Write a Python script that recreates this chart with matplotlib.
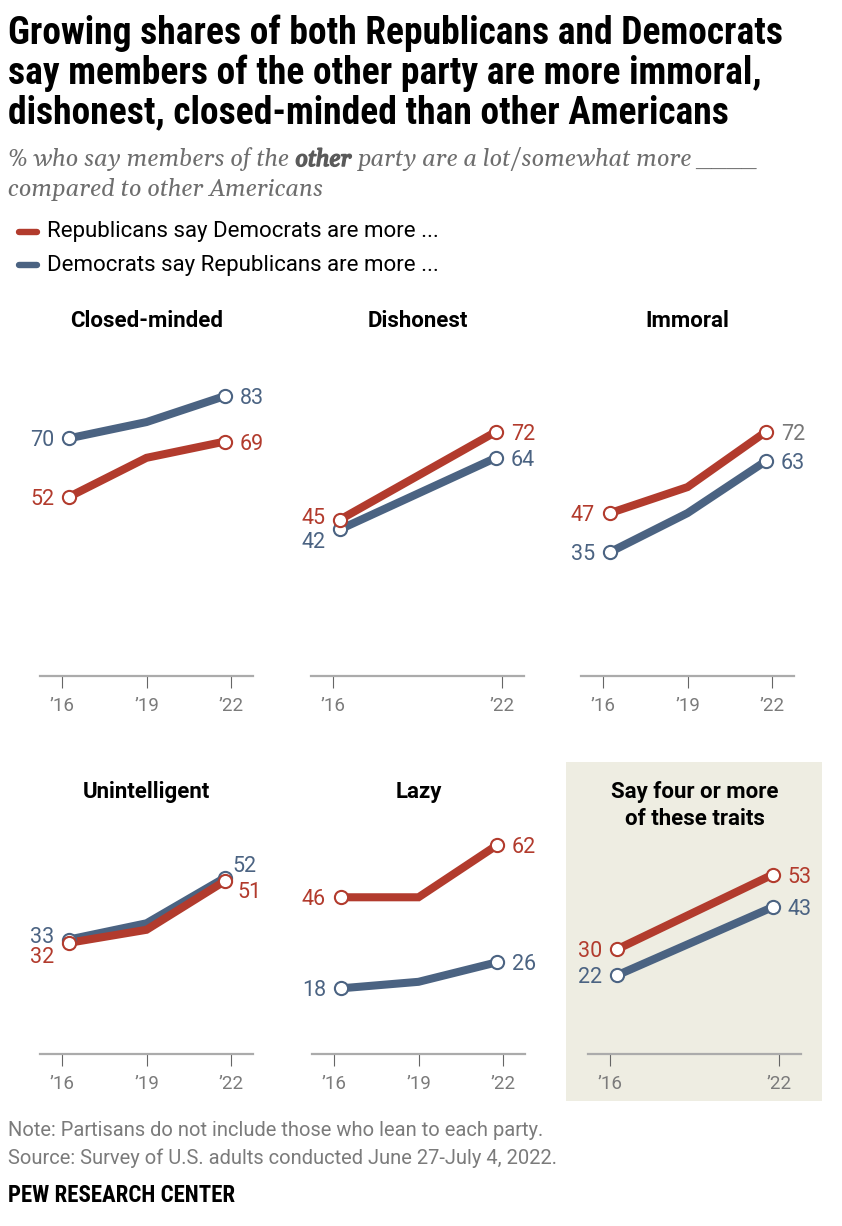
import matplotlib
matplotlib.use("Agg")
import matplotlib.pyplot as plt
from matplotlib.patches import Rectangle
from matplotlib.lines import Line2D
from matplotlib import patheffects

# ---- data -------------------------------------------------------------
traits = ["Closed-minded", "Dishonest", "Immoral",
          "Unintelligent", "Lazy", "Say four or more\nof these traits"]

waves_3 = [2016.25, 2019.0, 2021.78]
waves_2 = [2016.25, 2021.78]
tick_years_3 = [2016, 2019, 2022]
tick_labels_3 = ["\u201916", "\u201919", "\u201922"]
tick_years_2 = [2016, 2022]
tick_labels_2 = ["\u201916", "\u201922"]

rep_closed = [52, 64, 69]
dem_closed = [70, 75, 83]
rep_dishonest = [45, 72]
dem_dishonest = [42, 64]
rep_immoral = [47, 55, 72]
dem_immoral = [35, 47, 63]
rep_unintel = [32, 36, 51]
dem_unintel = [33, 38, 52]
rep_lazy = [46, 46, 62]
dem_lazy = [18, 20, 26]
rep_four = [30, 53]
dem_four = [22, 43]

rep_series = [rep_closed, rep_dishonest, rep_immoral, rep_unintel, rep_lazy, rep_four]
dem_series = [dem_closed, dem_dishonest, dem_immoral, dem_unintel, dem_lazy, dem_four]

# ---- style ------------------------------------------------------------
W, H = 842, 1226
RED = "#B23B2D"
BLUE = "#4B6382"
GREY = "#7B7B7B"
SANS = ["Roboto", "DejaVu Sans"]
COND = ["Roboto Condensed", "Roboto"]
SERIF = ["Gelasio", "DejaVu Serif"]

plt.rcParams["font.family"] = SANS

fig = plt.figure(figsize=(W / 100, H / 100), dpi=100)
renderer = fig.canvas.get_renderer()


def fx(x):
    return x / W


def fy(y):
    return 1 - y / H


def text_width(t):
    return t.get_window_extent(renderer=renderer).width


# ---- title ------------------------------------------------------------
title_lines = ["Growing shares of both Republicans and Democrats",
               "say members of the other party are more immoral,",
               "dishonest, closed-minded than other Americans"]
for i, line in enumerate(title_lines):
    fig.text(fx(8), fy(44 + 39.5 * i), line, family=COND, weight="bold",
             fontsize=27, color="black", va="baseline")

# subtitle (italic serif, "other" emphasised) - size chosen so line 1 spans ~750 px
SUB_COL = "#6E6E6E"
sub_parts = [("% who say members of the", False), ("other", True),
             ("party are a lot/somewhat more ____", False)]
bold_fx = [patheffects.withStroke(linewidth=1.1, foreground="#5A5A5A")]


def place_subtitle(size, draw):
    kw = dict(family=SERIF, style="italic", fontsize=size, va="baseline")
    p1 = fig.text(0, 0, "a a", **kw)
    p2 = fig.text(0, 0, "aa", **kw)
    space = text_width(p1) - text_width(p2)
    p1.remove()
    p2.remove()
    x = 8
    made = []
    for part, strong in sub_parts:
        if strong:
            t = fig.text(fx(x + 0.5), fy(166), part, color="#5A5A5A",
                         path_effects=bold_fx, **kw)
            x += text_width(t) + space + 1
        else:
            t = fig.text(fx(x), fy(166), part, color=SUB_COL, **kw)
            x += text_width(t) + space
        made.append(t)
    if not draw:
        for t in made:
            t.remove()
    return x - space - 8, kw


w16, _ = place_subtitle(16, False)
sub_size = 16 * 750 / w16
_, sub_kw = place_subtitle(sub_size, True)
fig.text(fx(8), fy(196), "compared to other Americans", color=SUB_COL, **sub_kw)

# legend
for yy, col, lab in [(232, RED, "Republicans say Democrats are more ..."),
                     (265, BLUE, "Democrats say Republicans are more ...")]:
    fig.add_artist(Line2D([fx(19), fx(37)], [fy(yy), fy(yy)], color=col, lw=4.6,
                          solid_capstyle="round", transform=fig.transFigure))
    fig.text(fx(47), fy(yy), lab, fontsize=16, color="black", va="center")

# shaded box behind the last panel
fig.add_artist(Rectangle((fx(566), fy(1101)), fx(822) - fx(566), fy(762) - fy(1101),
                         transform=fig.transFigure, facecolor="#EEEDE2",
                         edgecolor="none", zorder=0))

# ---- panels -----------------------------------------------------------
lefts = [40, 311, 581, 40, 312, 588]
bottoms = [676, 676, 676, 1054, 1054, 1054]
title_base = [327, 327, 327, 798, 798, 798]
ylims = [(-3.1, 98.7)] * 3 + [(-2.2, 99.6)] * 3
AX_W, AX_H = 213, 331

label_adjust = {
    (1, "rep", 0): (-15, 4), (1, "dem", 0): (-15, -11),
    (3, "dem", 0): (-15, 5), (3, "rep", 0): (-15, -12),
    (3, "dem", 1): (8, 14), (3, "rep", 1): (13, -9),
}
label_color = {(2, "rep", 1): "#777777"}

for i in range(6):
    ax = fig.add_axes([fx(lefts[i]), fy(bottoms[i]), AX_W / W, AX_H / H])
    ax.patch.set_alpha(0)
    ax.set_xlim(2015.22, 2022.78)
    ax.set_ylim(*ylims[i])
    for s in ["top", "left", "right"]:
        ax.spines[s].set_visible(False)
    ax.spines["bottom"].set_color("#ABABAB")
    ax.spines["bottom"].set_linewidth(1.6)
    ax.set_yticks([])
    rep, dem = rep_series[i], dem_series[i]
    xs = waves_3 if len(rep) == 3 else waves_2
    if len(rep) == 3:
        ax.set_xticks(tick_years_3, tick_labels_3)
    else:
        ax.set_xticks(tick_years_2, tick_labels_2)
    ax.tick_params(axis="x", length=8.6, width=0.8, color="#666666",
                   labelcolor=GREY, labelsize=13.5, pad=6.5)

    for key, vals, col in [("dem", dem, BLUE), ("rep", rep, RED)]:
        ax.plot(xs, vals, color=col, lw=5.8, solid_joinstyle="miter",
                solid_capstyle="butt", clip_on=False, zorder=2)
        ax.plot([xs[0], xs[-1]], [vals[0], vals[-1]], ls="none", marker="o",
                ms=9.5, mfc="white", mec=col, mew=1.5, clip_on=False, zorder=3)
        for j, (xv, v) in enumerate([(xs[0], vals[0]), (xs[-1], vals[-1])]):
            dx, dy = label_adjust.get((i, key, j), (-15, 0) if j == 0 else (15, 0))
            ax.annotate(str(v), xy=(xv, v), xytext=(dx * 0.72, dy * 0.72),
                        textcoords="offset points", ha="right" if j == 0 else "left",
                        va="center_baseline", fontsize=15.5,
                        color=label_color.get((i, key, j), col))

    cx = lefts[i] + AX_W / 2
    for k, line in enumerate(traits[i].split("\n")):
        fig.text(fx(cx), fy(title_base[i] + 27 * k), line, ha="center", va="baseline",
                 fontsize=16, weight="bold", color="black")

# ---- footer -----------------------------------------------------------
fig.text(fx(8), fy(1131), "Note: Partisans do not include those who lean to each party.",
         fontsize=14.5, color=GREY, va="center")
fig.text(fx(8), fy(1158), "Source: Survey of U.S. adults conducted June 27-July 4, 2022.",
         fontsize=14.5, color=GREY, va="center")
fig.text(fx(8), fy(1196), "PEW RESEARCH CENTER", family=COND, weight="bold",
         fontsize=16.5, color="black", va="center")

fig.savefig("out.png", dpi=100)
